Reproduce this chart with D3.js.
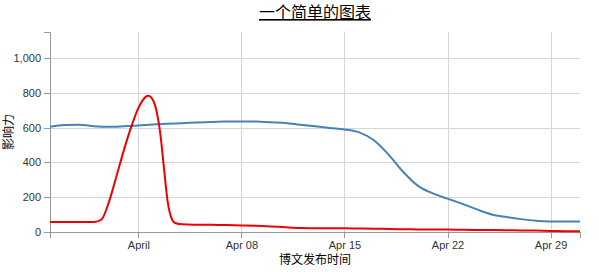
<!DOCTYPE html>
<html>
<head>
<meta charset="utf-8">
<script src="https://cdn.jsdelivr.net/npm/d3@7"></script>
<style>
  body { margin: 0; background: #fff; }
  svg { display: block; font-family: "Liberation Sans", Arial, "Noto Sans CJK SC", sans-serif; }
  .axis path, .axis line { stroke: #999; shape-rendering: crispEdges; }
  .axis text { fill: #333; font-size: 11px; }
  .grid line { stroke: #d6d6d6; shape-rendering: crispEdges; }
  .grid path { display: none; }
</style>
</head>
<body>
<script>
const title = "一个简单的图表";
const xLabel = "博文发布时间";
const yLabel = "影响力";
const xDomain = ["2012-03-26", "2012-05-01"];
const yDomain = [0, 1150];
const yTicks = [0, 200, 400, 600, 800, 1000];

const blueDates = ["2012-03-26","2012-03-27","2012-03-28","2012-03-29","2012-03-30","2012-03-31",
  "2012-04-01","2012-04-02","2012-04-03","2012-04-04","2012-04-05","2012-04-06","2012-04-07",
  "2012-04-08","2012-04-09","2012-04-10","2012-04-11","2012-04-12","2012-04-13","2012-04-14",
  "2012-04-15","2012-04-16","2012-04-17","2012-04-18","2012-04-19","2012-04-20","2012-04-21",
  "2012-04-22","2012-04-23","2012-04-24","2012-04-25","2012-04-26","2012-04-27","2012-04-28",
  "2012-04-29","2012-04-30","2012-05-01"];
const blueValues = [605,615,617,608,605,608,612,618,622,626,630,633,635,
  636,635,631,627,617,608,598,590,573,528,445,345,265,222,
  192,162,130,101,86,74,65,61,60,61];

const redDates = ["2012-03-26T00:00","2012-03-27T00:00","2012-03-28T00:00","2012-03-29T00:00",
  "2012-03-29T12:00","2012-03-30T00:00","2012-03-30T12:00","2012-03-31T00:00","2012-03-31T12:00",
  "2012-04-01T00:00","2012-04-01T12:00","2012-04-01T16:00","2012-04-02T00:00",
  "2012-04-02T06:00","2012-04-02T12:00","2012-04-02T18:00","2012-04-03T00:00",
  "2012-04-03T06:00","2012-04-03T12:00","2012-04-04T00:00","2012-04-05T00:00",
  "2012-04-06T00:00","2012-04-07T00:00","2012-04-08T00:00","2012-04-09T00:00",
  "2012-04-10T00:00","2012-04-11T00:00","2012-04-12T00:00","2012-04-13T00:00",
  "2012-04-14T00:00","2012-04-15T00:00","2012-04-16T00:00","2012-04-17T00:00",
  "2012-04-18T00:00","2012-04-19T00:00","2012-04-20T00:00","2012-04-21T00:00",
  "2012-04-22T00:00","2012-04-23T00:00","2012-04-24T00:00","2012-04-25T00:00",
  "2012-04-26T00:00","2012-04-27T00:00","2012-04-28T00:00","2012-04-29T00:00",
  "2012-04-30T00:00","2012-05-01T00:00"];
const redValues = [57,57,57,57,
  72,172,316,465,600,
  712,777,783,757,
  690,560,360,170,
  80,52,44,42,
  41,40,38,36,
  32,27,23,22,
  21,21,20,19,
  17,16,15,14,
  14,13,12,11,
  10,9,8,6,
  5,4];

const W = 599, H = 272;
const margin = {top: 32, right: 19, bottom: 40, left: 50};
const iw = W - margin.left - margin.right, ih = H - margin.top - margin.bottom;
const parseLocal = s => new Date(s.length === 10 ? s + "T00:00" : s);

const svg = d3.select("body").append("svg").attr("width", W).attr("height", H);
const g = svg.append("g").attr("transform", `translate(${margin.left},${margin.top})`);

const x = d3.scaleTime().domain(xDomain.map(parseLocal)).range([0, iw]);
const y = d3.scaleLinear().domain(yDomain).range([ih, 0]);

// grids
g.append("g").attr("class", "grid")
  .call(d3.axisLeft(y).tickValues(yTicks).tickSize(-iw).tickFormat(""));
g.append("g").attr("class", "grid").attr("transform", `translate(0,${ih})`)
  .call(d3.axisBottom(x).ticks(d3.timeWeek.every(1)).tickSize(-ih).tickFormat(""));

// axes
g.append("g").attr("class", "axis")
  .call(d3.axisLeft(y).tickValues(yTicks).tickFormat(d3.format(",")));
g.append("g").attr("class", "axis").attr("transform", `translate(0,${ih})`)
  .call(d3.axisBottom(x).ticks(d3.timeWeek.every(1)));

const blue = blueDates.map((d, i) => ({date: parseLocal(d), value: blueValues[i]}));
const red = redDates.map((d, i) => ({date: parseLocal(d), value: redValues[i]}));

const line = d3.line().curve(d3.curveMonotoneX).x(d => x(d.date)).y(d => y(d.value));

g.append("path").datum(blue).attr("fill", "none").attr("stroke", "steelblue")
  .attr("stroke-width", 2).attr("d", line);
g.append("path").datum(red).attr("fill", "none").attr("stroke", "#ee0000")
  .attr("stroke-width", 2).attr("d", line);

// title
svg.append("text").attr("x", margin.left + iw / 2).attr("y", 18)
  .attr("text-anchor", "middle").style("font-size", "16px")
  .style("text-decoration", "underline").style("font-family", "'Noto Sans CJK SC', sans-serif")
  .text(title);

// axis labels
svg.append("text").attr("x", margin.left + iw / 2).attr("y", 264)
  .attr("text-anchor", "middle").style("font-size", "12px")
  .style("font-family", "'Noto Sans CJK SC', sans-serif").text(xLabel);
svg.append("text").attr("transform", `translate(13,${margin.top + ih / 2}) rotate(-90)`)
  .attr("text-anchor", "middle").style("font-size", "12px")
  .style("font-family", "'Noto Sans CJK SC', sans-serif").text(yLabel);
</script>
</body>
</html>
